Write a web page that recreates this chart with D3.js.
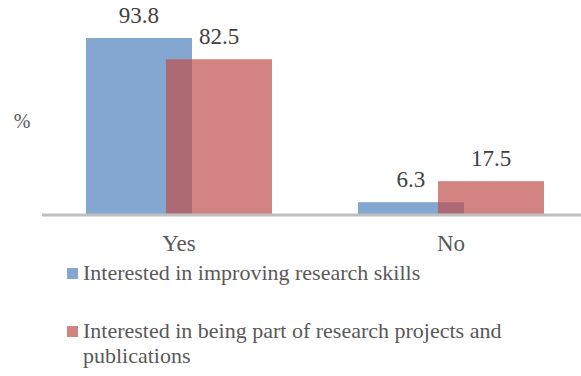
<!DOCTYPE html>
<html>
<head>
<meta charset="utf-8">
<title>Interest in research</title>
<script src="https://cdn.jsdelivr.net/npm/d3@7"></script>
</head>
<body style="margin:0;background:#fff">
<div id="wrap"></div>
<script>
const barColors = ["#4f81bd", "#c0504d"];
const groups = ["Yes", "No"];
const improvingSkills = [93.8, 6.3];
const researchProjects = [82.5, 17.5];
const legendLabels = [
  ["Interested in improving research skills"],
  ["Interested in being part of research projects and", "publications"]
];

const W = 581, H = 376;
const axisY = 214;

const svg = d3.select("#wrap").append("svg")
  .attr("width", W)
  .attr("height", H)
  .style("display", "block");

const x = d3.scaleBand()
  .domain(groups)
  .range([43, 587])
  .paddingInner(0.316)
  .paddingOuter(0.158);

const y = d3.scaleLinear().domain([0, 100]).range([axisY, 26.4]);

const bw = x.bandwidth() * 106 / 186;
const shift = d3.scaleLinear().domain([0, 1]).range([0, x.bandwidth() - bw]);

function serif(sel, size, fill) {
  sel.attr("font-family", "Times New Roman")
    .style("font-family", "\"Times New Roman\", \"Liberation Serif\"")
    .attr("font-size", size)
    .style("font-size", size + "px")
    .attr("fill", fill);
}

[improvingSkills, researchProjects].forEach((vals, si) => {
  const rows = groups.map((c, i) => ({ cat: c, value: vals[i] }));
  const g = svg.append("g");
  g.selectAll("rect")
    .data(rows)
    .join("rect")
    .attr("x", d => x(d.cat) + shift(si))
    .attr("y", d => y(d.value))
    .attr("width", bw)
    .attr("height", d => axisY - y(d.value))
    .attr("fill", barColors[si])
    .attr("fill-opacity", 0.7);

  g.selectAll("text")
    .data(rows)
    .join("text")
    .attr("x", d => x(d.cat) + shift(si) + bw / 2)
    .attr("y", d => y(d.value) - 15)
    .attr("text-anchor", "middle")
    .call(serif, 23, "#404040")
    .text(d => d.value.toFixed(1));
});

svg.append("line")
  .attr("x1", 42).attr("x2", W)
  .attr("y1", axisY + 1).attr("y2", axisY + 1)
  .attr("stroke", "#bfbfbf")
  .attr("stroke-width", 3);

svg.selectAll("text.cat")
  .data(groups)
  .join("text")
  .attr("class", "cat")
  .attr("x", d => x(d) + x.bandwidth() / 2)
  .attr("y", 251)
  .attr("text-anchor", "middle")
  .call(serif, 23, "#595959")
  .text(d => d);

svg.append("text")
  .attr("x", 22)
  .attr("y", 128)
  .attr("text-anchor", "middle")
  .call(serif, 20, "#595959")
  .text("%");

const legendY = [280, 338];
legendLabels.forEach((lines, i) => {
  svg.append("rect")
    .attr("x", 67)
    .attr("y", legendY[i] - 12)
    .attr("width", 11)
    .attr("height", 11)
    .attr("fill", barColors[i])
    .attr("fill-opacity", 0.7);

  const t = svg.append("text")
    .attr("x", 83)
    .attr("y", legendY[i])
    .call(serif, 22, "#595959");
  lines.forEach((line, j) => {
    t.append("tspan")
      .attr("x", 83)
      .attr("dy", j === 0 ? 0 : 25)
      .text(line);
  });
});
</script>
</body>
</html>
